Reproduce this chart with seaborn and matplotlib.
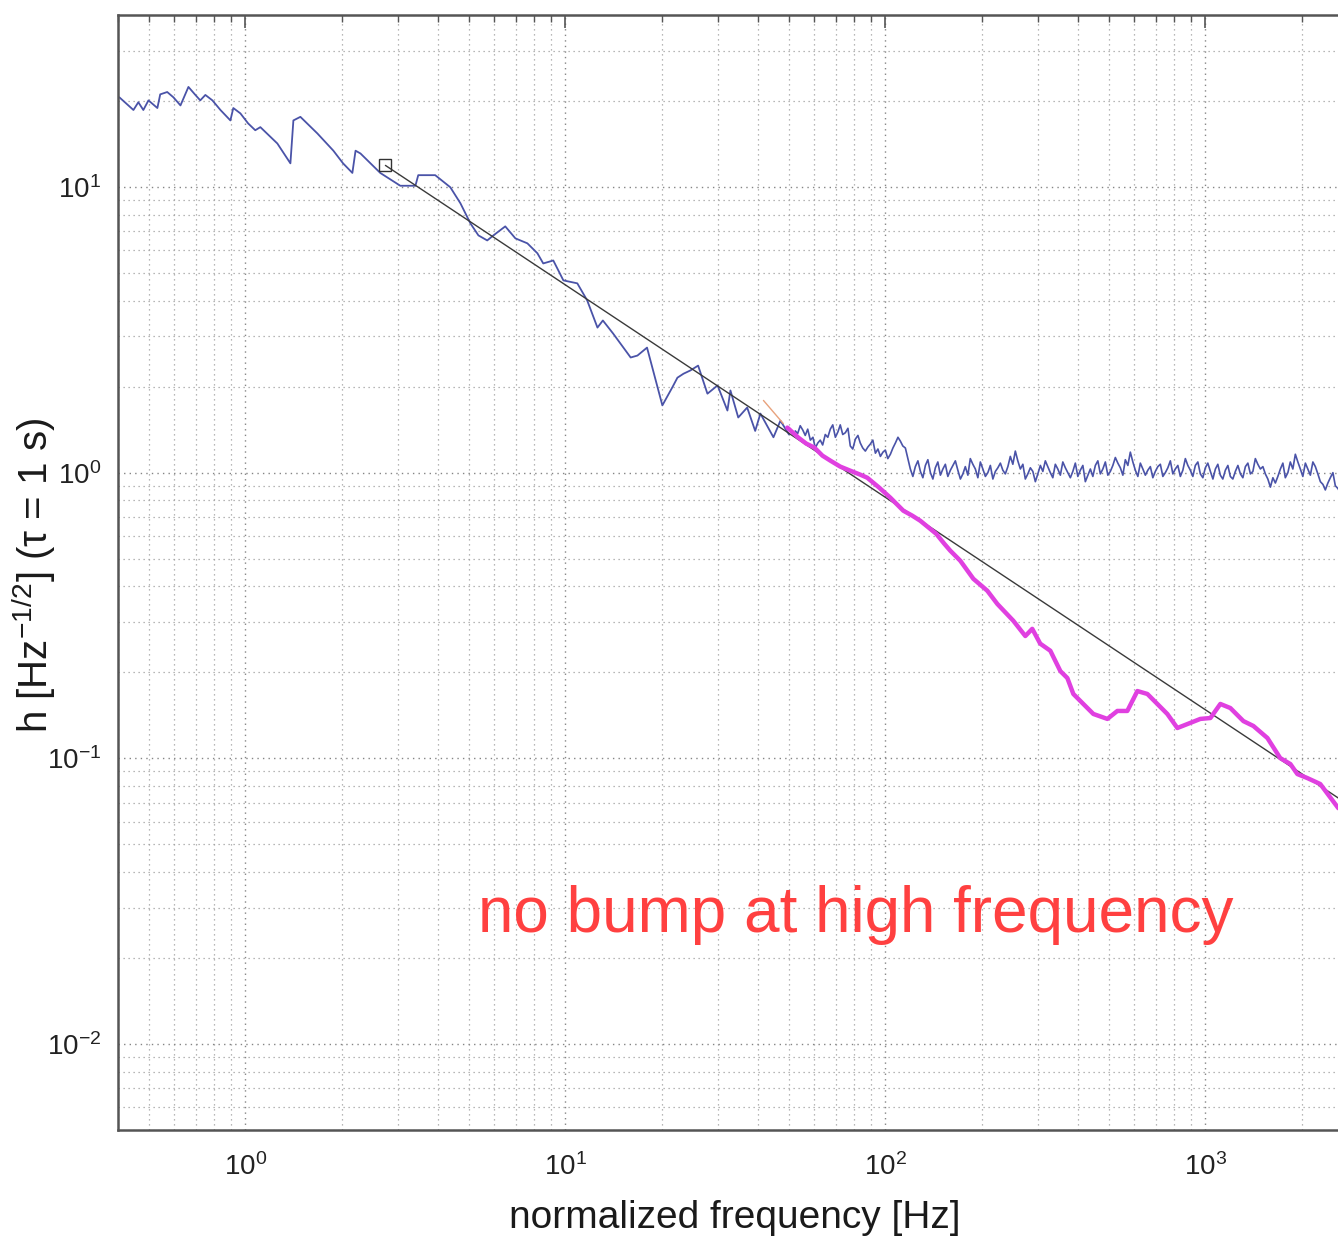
import numpy as np
import pandas as pd
import matplotlib
matplotlib.use("Agg")
import matplotlib.pyplot as plt
import seaborn as sns
from matplotlib.ticker import LogLocator, LogFormatterSciNotation, NullFormatter

# ---------------- data ----------------
# blue: measured spectrum, low-frequency part
blue_low_f = [0.404, 0.447, 0.463, 0.480, 0.498, 0.531, 0.542, 0.570, 0.596, 0.627,
              0.664, 0.698, 0.723, 0.750, 0.789, 0.836, 0.898, 0.917, 0.965, 1.02,
              1.074, 1.114, 1.259, 1.383, 1.413, 1.486, 1.679, 1.884, 2.02, 2.16,
              2.21, 2.29, 2.64, 3.05, 3.40, 3.47, 3.92, 4.37, 4.70, 5.05,
              5.35, 5.70, 5.96, 6.49, 6.98, 7.61, 8.18, 8.53, 9.17, 9.86,
              10.9, 11.7, 12.6, 13.1, 14.1, 16.0, 16.8, 18.0, 20.1, 21.6,
              22.4, 23.4, 24.6, 26.0, 27.8, 29.9, 32.1, 32.8, 34.7, 37.0,
              39.2, 40.7, 44.7, 47.0, 50.0]
blue_low_h = [20.6, 18.6, 19.8, 18.6, 20.1, 18.9, 21.1, 21.5, 20.6, 19.3,
              22.4, 21.0, 20.1, 21.0, 20.1, 18.6, 17.1, 18.9, 18.1, 16.7,
              15.8, 16.2, 14.2, 12.1, 17.1, 17.6, 15.4, 13.4, 12.1, 11.2,
              13.4, 13.1, 11.2, 10.1, 10.1, 11.0, 11.0, 9.98, 8.77, 7.46,
              6.77, 6.50, 6.77, 7.28, 6.61, 6.35, 5.86, 5.40, 5.53, 4.71,
              4.60, 4.01, 3.22, 3.41, 3.07, 2.53, 2.57, 2.74, 1.72, 1.99,
              2.15, 2.22, 2.28, 2.37, 1.89, 2.02, 1.65, 1.94, 1.56, 1.69,
              1.40, 1.61, 1.33, 1.52, 1.36]

# blue: noisy floor at high frequency (main samples)
blue_high_f = [52.3, 54.2, 56.2, 58.3, 60.4, 62.6, 64.9, 67.3, 69.8, 72.3,
               75.0, 77.7, 80.6, 83.5, 86.6, 89.8, 93.1, 96.5, 100.0, 103.7,
               107.5, 111.4, 115.5, 119.7, 124.1, 128.7, 133.4, 138.3, 143.3, 148.6,
               154.0, 159.7, 165.5, 171.6, 177.8, 184.3, 191.1, 198.1, 205.4, 212.9,
               220.7, 228.8, 237.1, 245.8, 254.8, 264.2, 273.8, 283.9, 294.3, 305.1,
               316.2, 327.8, 339.8, 352.3, 365.2, 378.6, 392.4, 406.8, 421.7, 437.2,
               453.2, 469.8, 487.0, 504.8, 523.3, 542.5, 562.3, 582.9, 604.3, 626.4,
               649.4, 673.2, 697.8, 723.4, 749.9, 777.4, 805.8, 835.4, 866.0, 897.7,
               930.6, 964.7, 1000.0, 1037.0, 1075.0, 1114.0, 1155.0, 1197.0, 1241.0, 1287.0,
               1334.0, 1383.0, 1433.0, 1486.0, 1540.0, 1597.0, 1655.0, 1716.0, 1778.0, 1843.0,
               1911.0, 1981.0, 2054.0, 2129.0, 2207.0, 2288.0, 2371.0, 2458.0, 2548.0, 2642.0]
blue_high_h = [1.40, 1.46, 1.35, 1.30, 1.22, 1.30, 1.36, 1.42, 1.33, 1.47,
               1.38, 1.24, 1.31, 1.27, 1.19, 1.26, 1.17, 1.14, 1.20, 1.16,
               1.27, 1.29, 1.22, 1.03, 1.05, 1.01, 1.06, 1.00, 1.04, 0.98,
               1.07, 1.02, 1.10, 0.95, 1.05, 1.12, 1.03, 1.09, 0.97, 1.06,
               1.01, 1.08, 0.99, 1.14, 1.19, 1.03, 0.95, 1.04, 0.93, 1.06,
               1.10, 1.00, 1.07, 0.98, 1.04, 0.96, 1.08, 1.02, 0.93, 1.03,
               1.06, 0.99, 1.09, 1.01, 1.13, 1.04, 1.11, 1.18, 1.02, 1.08,
               0.98, 1.05, 1.01, 1.07, 1.00, 1.10, 1.03, 0.97, 1.12, 1.02,
               1.06, 0.99, 1.04, 1.01, 1.03, 0.98, 1.02, 0.97, 1.01, 0.99,
               1.05, 0.99, 1.12, 1.03, 0.99, 0.89, 0.92, 1.03, 0.96, 1.09,
               1.16, 1.03, 1.08, 0.98, 1.05, 0.93, 0.87, 0.96, 0.90, 0.85]

# blue: noisy floor, in-between samples
blue_mid_f = [53.2, 55.2, 57.2, 59.4, 61.5, 63.7, 66.1, 68.5, 71.1, 73.6,
              76.4, 79.1, 82.1, 85.0, 88.2, 91.4, 94.8, 98.3, 101.8, 105.6,
              109.5, 113.4, 117.6,
              121.9, 126.4, 131.0, 135.8, 140.8, 145.9, 151.3, 156.8, 162.6, 168.5,
              174.7, 181.1, 187.7, 194.6, 201.7, 209.1, 216.8, 224.7, 232.9, 241.5,
              250.3, 259.4, 269.0, 278.8, 289.0, 299.6, 310.6, 321.9, 333.7, 345.9,
              358.6, 371.8, 385.4, 399.5, 414.2, 429.4, 445.1, 461.4, 478.3, 495.8,
              514.0, 532.8, 552.4, 572.6, 593.6, 615.3, 637.9, 661.2, 685.4, 710.5,
              736.6, 763.5, 791.5, 820.5, 850.6, 881.7, 914.0, 947.5, 982.3, 1018.0,
              1056.0, 1094.0, 1134.0, 1176.0, 1219.0, 1264.0, 1310.0, 1358.0, 1408.0, 1459.0,
              1513.0, 1568.0, 1626.0, 1685.0, 1747.0, 1811.0, 1877.0, 1946.0, 2017.0, 2091.0,
              2168.0, 2247.0, 2330.0, 2415.0, 2504.0, 2596.0]
blue_mid_h = [1.37, 1.41, 1.42, 1.33, 1.27, 1.25, 1.33, 1.47, 1.39, 1.36,
              1.43, 1.21, 1.35, 1.22, 1.23, 1.30, 1.21, 1.18, 1.12, 1.22,
              1.33, 1.24, 1.12,
              0.97, 1.10, 0.96, 1.11, 0.95, 1.09, 1.03, 0.97, 1.06, 1.02,
              0.99, 0.98, 1.07, 0.96, 1.03, 1.00, 0.95, 1.04, 1.02, 1.05,
              1.07, 1.10, 1.07, 0.99, 1.01, 0.99, 1.01, 1.05, 0.96, 1.03,
              1.09, 1.00, 1.01, 0.97, 1.06, 0.98, 0.97, 1.10, 1.03, 0.98,
              1.06, 1.08, 0.98, 1.06, 1.09, 0.97, 1.03, 1.02, 0.96, 1.05,
              0.97, 1.04, 0.99, 1.06, 1.02, 1.06, 0.97, 1.09, 0.96, 1.08,
              0.95, 1.07, 0.95, 1.06, 0.95, 1.06, 0.96, 1.08, 1.01, 1.07,
              1.05, 0.95, 0.96, 0.97, 1.08, 1.00, 1.03, 1.09, 0.97, 1.03,
              1.09, 0.99, 0.91, 0.92, 1.00, 0.88]

# magenta: corrected spectrum
mag_f = [49.4, 53.5, 56.6, 60.0, 63.6, 67.3, 72.3, 77.7, 83.5, 87.8,
         95.7, 103.7, 113.8, 121.4, 128.5, 144.2, 152.8, 159.6, 171.4, 188.4,
         208.3, 223.9, 251.2, 273.8, 287.8, 304.8, 327.8, 352.3, 370.5, 386.8,
         415.6, 446.7, 494.2, 530.9, 570.4, 613.2, 659.0, 708.0, 760.6, 817.6,
         878.5, 964.7, 1037.0, 1114.0, 1197.0, 1315.0, 1413.0, 1563.0, 1714.0, 1844.0,
         1939.0, 2083.0, 2286.0, 2604.0]
mag_h = [1.438, 1.326, 1.264, 1.224, 1.147, 1.102, 1.050, 1.016, 0.984, 0.960,
         0.886, 0.817, 0.736, 0.707, 0.679, 0.611, 0.564, 0.533, 0.492, 0.425,
         0.386, 0.347, 0.303, 0.268, 0.284, 0.252, 0.238, 0.202, 0.191, 0.168,
         0.155, 0.143, 0.1374, 0.1465, 0.1465, 0.172, 0.168, 0.155, 0.143, 0.1277,
         0.1318, 0.1374, 0.1384, 0.155, 0.150, 0.135, 0.1298, 0.1178, 0.1002, 0.0955,
         0.0881, 0.0853, 0.0813, 0.0669]

# black power-law fit line and its start marker
fit_f = [2.74, 2604.0]
fit_h = [11.9, 0.0726]
marker_f = [2.74]
marker_h = [11.9]

# small orange segment
orange_f = [41.6, 48.0]
orange_h = [1.79, 1.485]

annotation = "no bump at high frequency"
x_label = "normalized frequency [Hz]"
y_label = r"h [Hz$^{-1/2}$] (τ = 1 s)"

# ---------------- style ----------------
sns.set_theme(style="white")
plt.rcParams["font.family"] = ["Liberation Sans", "DejaVu Sans"]
plt.rcParams["mathtext.fontset"] = "custom"
plt.rcParams["mathtext.rm"] = "Liberation Sans"
plt.rcParams["mathtext.it"] = "Liberation Sans:italic"
plt.rcParams["mathtext.default"] = "regular"
plt.rcParams["axes.unicode_minus"] = False

W, H = 1338, 1237
fig = plt.figure(figsize=(W / 100, H / 100), dpi=100)
fig.patch.set_facecolor("white")

left_px, bottom_px, top_px = 118, 1130, 15
x_min, x_max = 0.4, 3000.0
px_per_dec = 320.0
width_px = px_per_dec * np.log10(x_max / x_min)
height_px = bottom_px - top_px
ax = fig.add_axes([left_px / W, 1 - bottom_px / H, width_px / W, height_px / H])

df_low = pd.DataFrame({"f": blue_low_f, "h": blue_low_h})
df_high = pd.concat([pd.DataFrame({"f": blue_high_f, "h": blue_high_h}),
                     pd.DataFrame({"f": blue_mid_f, "h": blue_mid_h})]).sort_values("f")
df_mag = pd.DataFrame({"f": mag_f, "h": mag_h})

blue = "#4a53a8"
sns.lineplot(data=df_low, x="f", y="h", ax=ax, color=blue, lw=1.3, estimator=None, sort=False)
sns.lineplot(data=df_high, x="f", y="h", ax=ax, color=blue, lw=1.2, estimator=None, sort=False)
sns.lineplot(x=fit_f, y=fit_h, ax=ax, color="#3a3a3a", lw=1.0, estimator=None)
sns.lineplot(x=orange_f, y=orange_h, ax=ax, color="#e8a27c", lw=1.0, estimator=None)
sns.lineplot(data=df_mag, x="f", y="h", ax=ax, color="#e040e0", lw=3.2, estimator=None, sort=False)
ax.plot(marker_f, marker_h, marker="s", ms=9, mfc="none", mec="#333333", mew=1.0, ls="none")

ax.set_xscale("log")
ax.set_yscale("log")
ax.set_xlim(x_min, x_max)
ax.set_ylim(0.005, 40)

ax.xaxis.set_major_locator(LogLocator(base=10, numticks=20))
ax.xaxis.set_minor_locator(LogLocator(base=10, subs=np.arange(2, 10), numticks=40))
ax.yaxis.set_major_locator(LogLocator(base=10, numticks=20))
ax.yaxis.set_minor_locator(LogLocator(base=10, subs=np.arange(2, 10), numticks=40))
ax.xaxis.set_major_formatter(LogFormatterSciNotation())
ax.yaxis.set_major_formatter(LogFormatterSciNotation())
ax.xaxis.set_minor_formatter(NullFormatter())
ax.yaxis.set_minor_formatter(NullFormatter())

ax.grid(which="major", linestyle=(0, (1, 3)), color="#858585", lw=1.0)
ax.grid(which="minor", linestyle=(0, (1, 3)), color="#a0a0a0", lw=0.9)
ax.set_axisbelow(True)

for s in ["left", "bottom", "top", "right"]:
    ax.spines[s].set_color("#555555")
    ax.spines[s].set_linewidth(1.8)

ax.tick_params(which="both", direction="in", top=True, right=True, colors="#555555")
ax.tick_params(which="major", length=9, width=1.2, labelsize=20, labelcolor="#222222", pad=12)
ax.tick_params(axis="x", which="major", pad=17)
ax.tick_params(which="minor", length=5, width=1.0)

ax.set_xlabel(x_label, fontsize=28, color="#1a1a1a")
ax.set_ylabel(y_label, fontsize=29, color="#1a1a1a")
ax.xaxis.set_label_coords((735 - left_px) / width_px, -(1200 - bottom_px) / height_px)
ax.yaxis.set_label_coords(-(left_px - 58) / width_px, (bottom_px - 575) / height_px)

fig.text(478 / W, 1 - 932 / H, annotation, color="#ff4040", fontsize=46,
         ha="left", va="baseline")

fig.savefig("out.png", dpi=100, facecolor="white")
